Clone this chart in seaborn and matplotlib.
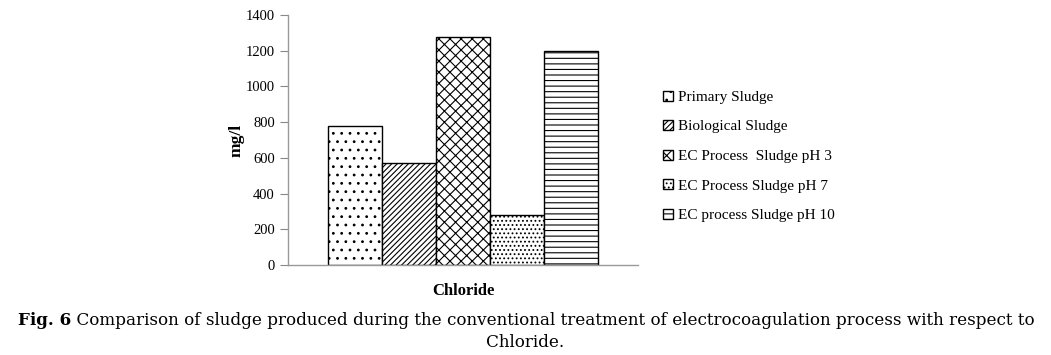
import pandas as pd
import matplotlib.pyplot as plt
import seaborn as sns
from matplotlib.patches import Patch

# data
parameters = ['Chloride']
series = ['Primary Sludge', 'Biological Sludge', 'EC Process  Sludge pH 3',
          'EC Process Sludge pH 7', 'EC process Sludge pH 10']
values = [780, 570, 1280, 280, 1200]
hatches = ['..', '//////', 'xxx', '....', '---']

df = pd.DataFrame({
    'parameter': parameters * len(series),
    'series': series,
    'value': values,
})

sns.set_style('white')
plt.rcParams['font.family'] = ['Liberation Serif', 'DejaVu Serif']
plt.rcParams['hatch.linewidth'] = 0.8
plt.rcParams['text.color'] = 'black'
plt.rcParams['xtick.color'] = 'black'
plt.rcParams['ytick.color'] = 'black'
plt.rcParams['axes.labelcolor'] = 'black'

fig = plt.figure(figsize=(10.51, 3.55), dpi=100)
ax = fig.add_axes([0.274, 0.2535, 0.333, 0.704])

sns.barplot(x='parameter', y='value', hue='series', data=df, ax=ax,
            width=0.77, palette=['white'] * len(series),
            edgecolor='black', linewidth=1.0, legend=False)

for bar, h in zip(ax.patches, hatches):
    bar.set_hatch(h)

ax.set_ylim(0, 1400)
ax.set_yticks(range(0, 1401, 200))
ax.set_xlim(-0.5, 0.5)
ax.set_ylabel('mg/l', fontsize=12.5, fontweight='bold', labelpad=1)
ax.set_xlabel('')
ax.tick_params(axis='y', labelsize=10.5, length=6, color='#888888', direction='out',
               left=True, labelcolor='black')
ax.tick_params(axis='x', labelsize=12, length=0, pad=13, labelcolor='black')
for lbl in ax.get_xticklabels():
    lbl.set_fontweight('bold')

sns.despine(ax=ax)
for s in ['left', 'bottom']:
    ax.spines[s].set_color('#999999')
    ax.spines[s].set_linewidth(1.0)

handles = [Patch(facecolor='white', edgecolor='black', hatch=h, label=s)
           for s, h in zip(series, hatches)]
fig.legend(handles=handles, loc='upper left', bbox_to_anchor=(663 / 1051, 0.745),
           frameon=False, fontsize=11, handlelength=0.65, handleheight=0.65,
           handletextpad=0.3, labelspacing=1.05, borderpad=0, borderaxespad=0)

# caption
cap_font = ['DejaVu Serif']
t1 = fig.text(18 / 1051, 0.098, 'Fig. 6', fontsize=12.1, fontweight='bold',
              ha='left', va='center', family=cap_font)
ax.annotate(' Comparison of sludge produced during the conventional treatment of '
            'electrocoagulation process with respect to', xy=(1, 0), xycoords=t1,
            fontsize=12.1, ha='left', va='bottom', annotation_clip=False,
            family=cap_font)
fig.text(0.5, 0.036, 'Chloride.', fontsize=12.1, ha='center', va='center',
         family=cap_font)

fig.savefig('out.png', dpi=100)
